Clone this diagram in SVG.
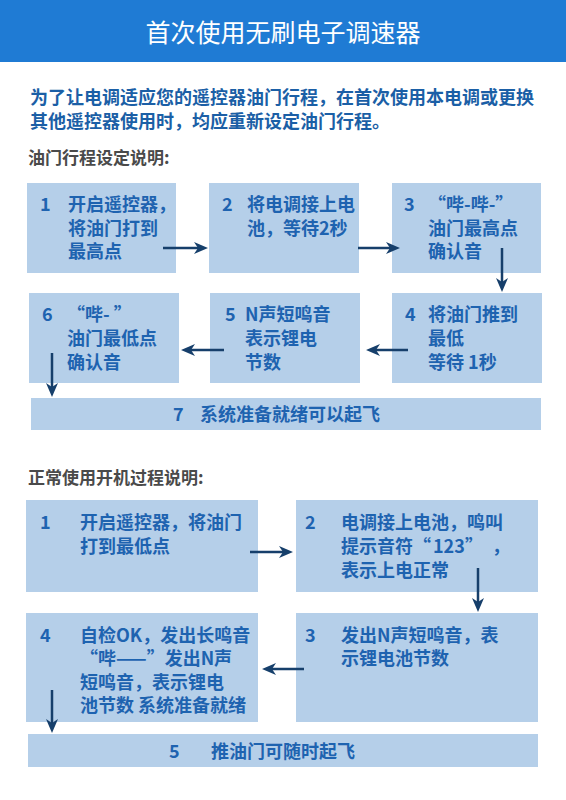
<svg xmlns="http://www.w3.org/2000/svg" width="566" height="800" viewBox="0 0 566 800">
<defs>
<style>
.bg{fill:#ffffff}
.hdr{fill:#1f7bd4}
.title{font-family:"Noto Sans CJK SC","Noto Sans",sans-serif;font-size:25px;fill:#ffffff}
.para{font-family:"Noto Sans CJK SC","Noto Sans",sans-serif;font-size:18px;font-weight:bold;fill:#1b5fa6}
.head{font-family:"Noto Sans CJK SC","Noto Sans",sans-serif;font-size:17px;font-weight:bold;fill:#4a4a4a}
.box{fill:#b5cfe9}
.t{font-family:"Noto Sans CJK SC","Noto Sans",sans-serif;font-size:18px;font-weight:bold;fill:#1e63b0}
.arr{stroke:#163f6b;stroke-width:2.5;fill:none;marker-end:url(#ah)}
</style>
<marker id="ah" viewBox="0 0 14 12" refX="6" refY="6" markerWidth="14" markerHeight="12" markerUnits="userSpaceOnUse" orient="auto">
<path d="M0,0 L14,6 L0,12 L4,6 Z" fill="#163f6b"/>
</marker>
</defs>
<rect class="bg" x="0" y="0" width="566" height="800"/>
<g id="header">
<rect class="hdr" x="0" y="0" width="566" height="62"/>
<text class="title" x="283" y="42" text-anchor="middle">首次使用无刷电子调速器</text>
</g>
<g id="intro">
<text class="para" x="30" y="104">为了让电调适应您的遥控器油门行程，在首次使用本电调或更换</text>
<text class="para" x="30" y="128">其他遥控器使用时，均应重新设定油门行程。</text>
</g>
<g id="heading1"><text class="head" x="28" y="164">油门行程设定说明:</text></g>

<g id="s1n1">
<rect class="box" x="27" y="183" width="149" height="90"/>
<text class="t" x="40" y="211">1</text>
<text class="t" x="68" y="211">开启遥控器，</text>
<text class="t" x="68" y="235">将油门打到</text>
<text class="t" x="68" y="258">最高点</text>
</g>
<g id="s1n2">
<rect class="box" x="209" y="183" width="150" height="90"/>
<text class="t" x="222" y="211">2</text>
<text class="t" x="247" y="211">将电调接上电</text>
<text class="t" x="247" y="235">池，等待2秒</text>
</g>
<g id="s1n3">
<rect class="box" x="392" y="183" width="149" height="90"/>
<text class="t" x="404" y="211">3</text>
<text class="t" x="428" y="211">“哔-哔-”</text>
<text class="t" x="428" y="235">油门最高点</text>
<text class="t" x="428" y="258">确认音</text>
</g>
<g id="s1n6">
<rect class="box" x="29" y="293" width="150" height="90"/>
<text class="t" x="42" y="321">6</text>
<text class="t" x="67" y="321">“哔- ”</text>
<text class="t" x="67" y="345">油门最低点</text>
<text class="t" x="67" y="369">确认音</text>
</g>
<g id="s1n5">
<rect class="box" x="210" y="293" width="150" height="90"/>
<text class="t" x="225" y="321">5</text>
<text class="t" x="245" y="321">N声短鸣音</text>
<text class="t" x="245" y="345">表示锂电</text>
<text class="t" x="245" y="369">节数</text>
</g>
<g id="s1n4">
<rect class="box" x="392" y="293" width="150" height="90"/>
<text class="t" x="405" y="321">4</text>
<text class="t" x="428" y="321">将油门推到</text>
<text class="t" x="428" y="345">最低</text>
<text class="t" x="428" y="369">等待 1秒</text>
</g>
<g id="s1n7">
<rect class="box" x="31" y="398" width="510" height="32"/>
<text class="t" x="173" y="421">7</text>
<text class="t" x="200" y="421">系统准备就绪可以起飞</text>
</g>

<g id="heading2"><text class="head" x="28" y="484">正常使用开机过程说明:</text></g>

<g id="s2n1">
<rect class="box" x="26" y="500" width="232" height="92"/>
<text class="t" x="40" y="529">1</text>
<text class="t" x="80" y="529">开启遥控器，将油门</text>
<text class="t" x="80" y="553">打到最低点</text>
</g>
<g id="s2n2">
<rect class="box" x="296" y="500" width="242" height="92"/>
<text class="t" x="305" y="529">2</text>
<text class="t" x="341" y="529">电调接上电池，鸣叫</text>
<text class="t" x="341" y="553">提示音符<tspan x="413">“</tspan><tspan x="433">123</tspan><tspan x="465">”</tspan><tspan x="492">，</tspan></text>
<text class="t" x="341" y="577">表示上电正常</text>
</g>
<g id="s2n4">
<rect class="box" x="26" y="613" width="232" height="109"/>
<text class="t" x="40" y="642">4</text>
<text class="t" x="80" y="642">自检OK，发出长鸣音</text>
<text class="t" x="80" y="665">“哔——”发出N声</text>
<text class="t" x="80" y="689">短鸣音，表示锂电</text>
<text class="t" x="80" y="712">池节数 系统准备就绪</text>
</g>
<g id="s2n3">
<rect class="box" x="296" y="613" width="242" height="109"/>
<text class="t" x="305" y="642">3</text>
<text class="t" x="341" y="642">发出N声短鸣音，表</text>
<text class="t" x="341" y="665">示锂电池节数</text>
</g>
<g id="s2n5">
<rect class="box" x="28" y="734" width="510" height="33"/>
<text class="t" x="169" y="758">5</text>
<text class="t" x="211" y="758">推油门可随时起飞</text>
</g>

<g id="connectors">
<line class="arr" x1="163" y1="248" x2="200" y2="248"/>
<line class="arr" x1="358" y1="248" x2="392" y2="248"/>
<line class="arr" x1="502" y1="248" x2="502" y2="284"/>
<line class="arr" x1="408" y1="350" x2="374" y2="350"/>
<line class="arr" x1="224" y1="350" x2="189" y2="350"/>
<line class="arr" x1="52" y1="353" x2="52" y2="389"/>
<line class="arr" x1="250" y1="552" x2="285" y2="552"/>
<line class="arr" x1="478" y1="568" x2="478" y2="604"/>
<line class="arr" x1="304" y1="669" x2="270" y2="669"/>
<line class="arr" x1="52" y1="690" x2="52" y2="725"/>
</g>
</svg>
